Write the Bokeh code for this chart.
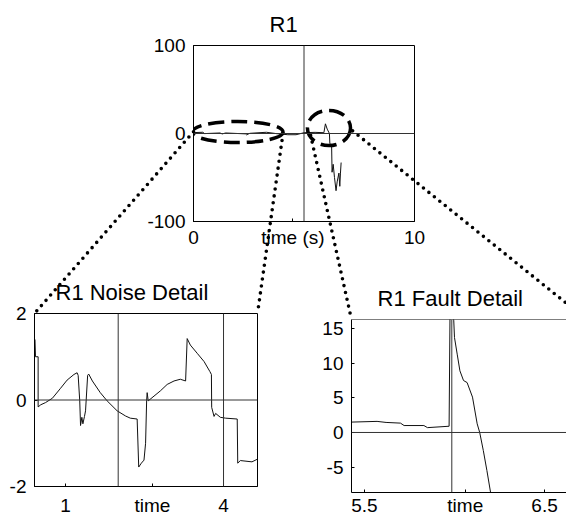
from bokeh.plotting import figure
from bokeh.models import Range1d, Span, FixedTicker
from bokeh.embed import file_html
from bokeh.resources import INLINE

# ---------------- data ----------------
overview_t = [0.0, 0.42, 0.5, 1.2, 1.3, 1.45, 2.35, 2.4, 2.55, 3.3, 3.77, 4.27, 4.64, 5.0, 5.5,
              5.9, 5.97, 6.05, 6.15, 6.17, 6.25, 6.27, 6.32, 6.38, 6.45, 6.5, 6.58, 6.62, 6.65, 6.68]
overview_v = [1.0, 1.4, -0.1, 0.6, -0.5, 0.6, -0.4, -1.5, 0.2, 1.4, -0.2, -1.4, -1.4, 0.9, 1.3,
              0.9, 11, 5, 0, -11, -15, -44, -35, -50, -65, -55, -45, -60, -45, -33]

noise_t = [0.42, 0.43, 0.48, 0.48, 0.53, 0.62, 0.75, 0.905, 1.03, 1.16, 1.22, 1.24, 1.27, 1.285,
           1.31, 1.33, 1.36, 1.38, 1.42, 1.44, 1.51, 1.66, 1.79, 1.98, 2.14, 2.23, 2.36, 2.39,
           2.44, 2.49, 2.52, 2.54, 2.55, 2.57, 2.68, 2.8, 2.93, 3.06, 3.18, 3.28, 3.31, 3.37,
           3.5, 3.63, 3.74, 3.77, 3.775, 3.82, 3.85, 3.94, 4.04, 4.26, 4.27, 4.32, 4.54, 4.64]
noise_v = [1.4, 1.0, 1.0, -0.16, -0.11, -0.06, 0.04, 0.27, 0.46, 0.59, 0.63, 0.57, -0.02, -0.59,
           -0.4, -0.55, -0.38, -0.25, 0.57, 0.6, 0.44, 0.17, -0.02, -0.25, -0.37, -0.42, -0.44, -1.55,
           -1.46, -1.39, -1.0, -0.02, 0.17, -0.02, 0.09, 0.21, 0.36, 0.44, 0.48, 0.44, 1.42, 1.27,
           1.08, 0.89, 0.66, 0.59, -0.17, -0.38, -0.31, -0.4, -0.42, -0.44, -1.46, -1.4, -1.43, -1.37]

fault_t = [5.43, 5.57, 5.62, 5.70, 5.72, 5.83, 5.85, 5.97, 5.975, 5.99, 5.996, 6.0, 6.015, 6.03,
           6.05, 6.07, 6.10, 6.126, 6.14, 6.16, 6.18, 6.2, 6.22]
fault_v = [1.5, 1.6, 1.45, 1.35, 1.0, 1.0, 0.7, 0.9, 16.8, 18, 16.1, 13.7, 11.3, 8.9,
           7.5, 7.2, 5.1, 1.25, 0, -2.6, -5.5, -8.6, -11]

overview_xticks = [0, 4.5, 10]
overview_xtick_labels = ["0", "time (s)", "10"]
overview_yticks = [-100, 0, 100]
noise_xticks = [1, 2.65, 4]
noise_xtick_labels = ["1", "time", "4"]
noise_yticks = [-2, 0, 2]
fault_xticks = [5.5, 6.06, 6.5]
fault_xtick_labels = ["5.5", "time", "6.5"]
fault_yticks = [-5, 0, 5, 10, 15]

overview_marks = [5]
noise_marks = [2, 4]
fault_marks = [5.985]

# dashed zoom ellipses (overview data coords)
zoom_cx = [2.0, 6.13]
zoom_cy = [1.7, 6.25]
zoom_w = [4.1, 1.95]
zoom_h = [24, 40]

# connector anchors in the overview (data coords)
conn_start_x = [0.0, 4.05, 5.3, 7.2]
conn_start_y = [2.0, 0.0, -2.0, 3.0]
FAULT_FULL_END = 6.733  # right end of the fault window (beyond the page edge)

# ---------------- layout (page px) ----------------
W, H = 566, 517
FONT = "Liberation Sans"
TOP = dict(left=193, top=45, w=221, h=176, xr=(0, 10), yr=(-100, 100),
           bl=60, br=20, bt=50, bb=40)
NOISE = dict(left=34, top=313, w=223, h=173, xr=(0.411, 4.645), yr=(-2, 2),
             bl=30, br=8, bt=50, bb=31)
FAULT = dict(left=351, top=319, w=215, h=173, xr=(5.428, 6.622), yr=(-8.66, 16.3),
             bl=32, br=0, bt=50, bb=25)


def to_page(box, x, y):
    x0, x1 = box["xr"]
    y0, y1 = box["yr"]
    px = box["left"] + (x - x0) / (x1 - x0) * box["w"]
    py = box["top"] + (y1 - y) / (y1 - y0) * box["h"]
    return px, py


def make_fig(box, title, toff, xticks, xlabels, yticks, xstand):
    p = figure(frame_width=box["w"], frame_height=box["h"],
               x_range=Range1d(*box["xr"]), y_range=Range1d(*box["yr"]),
               output_backend="svg", toolbar_location=None,
               min_border_left=box["bl"], min_border_right=box["br"],
               min_border_top=box["bt"], min_border_bottom=box["bb"], title=title)
    p.styles = {"position": "absolute", "left": f"{box['left'] - box['bl']}px",
                "top": f"{box['top'] - box['bt']}px"}
    p.grid.visible = False
    p.background_fill_color = None
    p.border_fill_color = None
    p.outline_line_color = "black"
    p.outline_line_width = 1
    p.title.text_font = FONT
    p.title.text_font_size = "22px"
    p.title.text_font_style = "normal"
    p.title.text_color = "black"
    p.title.align = "left"
    p.title.offset = toff
    p.title.standoff = 17
    p.xaxis.ticker = FixedTicker(ticks=xticks)
    p.xaxis.major_label_overrides = {t: s for t, s in zip(xticks, xlabels)}
    p.yaxis.ticker = FixedTicker(ticks=yticks)
    p.yaxis.major_label_overrides = {t: str(t) for t in yticks}
    for ax in (p.xaxis, p.yaxis):
        ax.major_label_text_font = FONT
        ax.major_label_text_font_size = "19px"
        ax.major_label_text_color = "black"
        ax.major_tick_in = 3
        ax.major_tick_out = 0
        ax.minor_tick_line_color = None
        ax.axis_line_color = "black"
        ax.major_tick_line_color = "black"
    p.xaxis.major_label_standoff = xstand
    p.yaxis.major_label_standoff = 8
    return p


def add_marks(p, xs):
    for x in xs:
        p.add_layout(Span(location=x, dimension="height", line_color="#333333", line_width=1))
    p.add_layout(Span(location=0, dimension="width", line_color="#333333", line_width=1))


# background figure (frame = whole page) holding the dotted connector lines
bg = figure(width=W, height=H, x_range=Range1d(0, W), y_range=Range1d(H, 0),
            output_backend="svg", toolbar_location=None, min_border=0,
            x_axis_location=None, y_axis_location=None)
bg.styles = {"position": "absolute", "left": "0px", "top": "0px"}
bg.grid.visible = False
bg.outline_line_color = None
bg.background_fill_color = "white"
bg.border_fill_color = "white"

ends = [(NOISE, NOISE["xr"][0], NOISE["yr"][1]), (NOISE, NOISE["xr"][1], NOISE["yr"][1]),
        (FAULT, FAULT["xr"][0], FAULT["yr"][1]), (FAULT, FAULT_FULL_END, FAULT["yr"][1])]
sx0, sy0, sx1, sy1 = [], [], [], []
for (bx, ex, ey), cx, cy in zip(ends, conn_start_x, conn_start_y):
    a = to_page(TOP, cx, cy)
    b = to_page(bx, ex, ey)
    sx0.append(a[0]); sy0.append(a[1]); sx1.append(b[0]); sy1.append(b[1])
bg.segment(sx0, sy0, sx1, sy1, line_color="black", line_width=3.6,
           line_dash="0 7", line_cap="round")

# overview plot
p_top = make_fig(TOP, "R1", 76, overview_xticks, overview_xtick_labels, overview_yticks, 5)
add_marks(p_top, overview_marks)
p_top.line(overview_t, overview_v, line_color="#111111", line_width=1)
p_top.ellipse(zoom_cx, zoom_cy, width=zoom_w, height=zoom_h, fill_color=None,
              line_color="black", line_width=3.5, line_dash="16 7")

# noise detail
p_noise = make_fig(NOISE, "R1 Noise Detail", 21, noise_xticks, noise_xtick_labels,
                   noise_yticks, 8)
add_marks(p_noise, noise_marks)
p_noise.line(noise_t, noise_v, line_color="#111111", line_width=1)

# fault detail (its right side runs off the page, so no right border line)
p_fault = make_fig(FAULT, "R1 Fault Detail", 26, fault_xticks, fault_xtick_labels,
                   fault_yticks, 2)
p_fault.outline_line_color = None
p_fault.add_layout(Span(location=FAULT["yr"][1], dimension="width",
                        line_color="black", line_width=1))
add_marks(p_fault, fault_marks)
p_fault.line(fault_t, fault_v, line_color="#111111", line_width=1)

open("out.html", "w").write(file_html([bg, p_top, p_noise, p_fault], INLINE))
